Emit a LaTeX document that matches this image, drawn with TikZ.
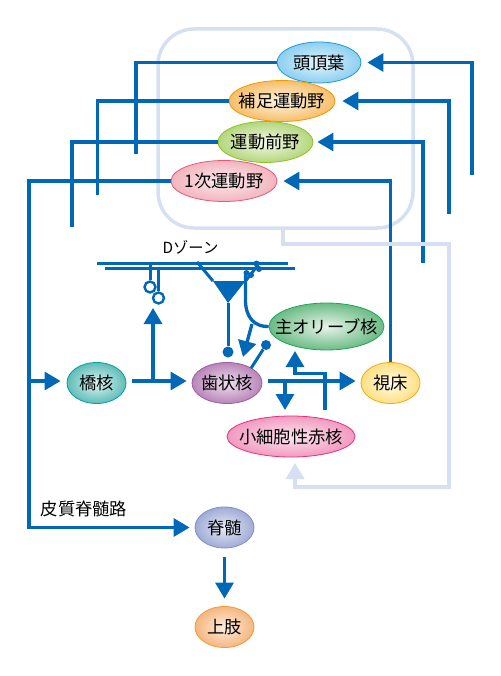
\documentclass[tikz,border=0pt]{standalone}
\usepackage{fontspec}
\setmainfont{Noto Sans CJK JP}
\usetikzlibrary{arrows.meta,positioning,calc,shapes.geometric}
\definecolor{pathblue}{HTML}{0068B7}
\definecolor{paleblue}{HTML}{D6E0F2}
\definecolor{skyB}{HTML}{1E9AD6}\definecolor{skyI}{HTML}{E4F5FC}\definecolor{skyO}{HTML}{8CCFF0}
\definecolor{amberB}{HTML}{F39800}\definecolor{amberI}{HTML}{FFF6E4}\definecolor{amberO}{HTML}{F7BE6A}
\definecolor{limeB}{HTML}{8FC31F}\definecolor{limeI}{HTML}{F5F9E8}\definecolor{limeO}{HTML}{B4D67E}
\definecolor{roseB}{HTML}{E8587A}\definecolor{roseI}{HTML}{FBECEF}\definecolor{roseO}{HTML}{F3B4BE}
\definecolor{leafB}{HTML}{22A35A}\definecolor{leafI}{HTML}{E8F4EB}\definecolor{leafO}{HTML}{6CBB85}
\definecolor{plumB}{HTML}{A05CA0}\definecolor{plumI}{HTML}{EEE0EE}\definecolor{plumO}{HTML}{B985B8}
\definecolor{sunB}{HTML}{F5A81C}\definecolor{sunI}{HTML}{FFFCEC}\definecolor{sunO}{HTML}{FEE07F}
\definecolor{pinkB}{HTML}{E5317D}\definecolor{pinkI}{HTML}{FBE6F0}\definecolor{pinkO}{HTML}{F29AC0}
\definecolor{tealB}{HTML}{00A0A0}\definecolor{tealI}{HTML}{E0F3F2}\definecolor{tealO}{HTML}{5FBDB8}
\definecolor{slateB}{HTML}{7F8FC9}\definecolor{slateI}{HTML}{E8EAF6}\definecolor{slateO}{HTML}{A0ABD6}
\definecolor{peachB}{HTML}{F39A3B}\definecolor{peachI}{HTML}{FDEEDF}\definecolor{peachO}{HTML}{F6B67F}
\newcommand{\lbl}[1]{\raisebox{-.38em}[0pt][0pt]{\makebox[0pt]{#1}}}
\tikzset{
  areanode/.style={ellipse, draw=#1B, line width=0.8pt, inner color=#1I, outer color=#1O, inner sep=0pt, minimum height=41pt, font=\fontsize{17.3}{20}\selectfont},
  cline/.style={-{Triangle[length=16pt,width=18pt]}, line width=3.3pt, draw=pathblue},
  pline/.style={line width=3.3pt, draw=pathblue},
  paleline/.style={line width=3.5pt, draw=paleblue},
  fibre/.style={line width=3pt, draw=pathblue},
  termdot/.style={circle, fill=pathblue, minimum size=11pt, inner sep=0pt},
  opendot/.style={circle, draw=pathblue, fill=white, line width=2.4pt, minimum size=11pt, inner sep=0pt},
  spine/.style={circle, fill=pathblue, minimum size=6pt, inner sep=0pt},
  txtlabel/.style={inner sep=0pt, font=\fontsize{17.3}{20}\selectfont},
}
\begin{document}
\begin{tikzpicture}[x=1pt,y=-1pt]
  \useasboundingbox (0,0) rectangle (500,676);

  \node[draw=paleblue, line width=3.5pt, rounded corners=36pt, minimum width=255pt, minimum height=199pt] (cortex) at (285.5,128.5) {};

  \node[areanode=sky, minimum width=84pt] (toucho) at (319,62.5) {\lbl{頭頂葉}};
  \node[areanode=amber, minimum width=106pt] (hosoku) at (282,101) {\lbl{補足運動野}};
  \node[areanode=lime, minimum width=95pt] (zenya) at (265.5,142) {\lbl{運動前野}};
  \node[areanode=rose, minimum width=106pt] (ichiji) at (224,181) {\lbl{1次運動野}};
  \node[areanode=leaf, minimum width=115pt, minimum height=47pt] (olive) at (326.5,326.5) {\lbl{主オリーブ核}};
  \node[areanode=plum, minimum width=70pt] (shijo) at (227,383) {\lbl{歯状核}};
  \node[areanode=sun, minimum width=59pt] (thal) at (390.5,383) {\lbl{視床}};
  \node[areanode=pink, minimum width=128pt] (red) at (291,436.5) {\lbl{小細胞性赤核}};
  \node[areanode=teal, minimum width=59pt] (kyo) at (96.5,383) {\lbl{橋核}};
  \node[areanode=slate, minimum width=59pt] (sekizui) at (224.5,527.5) {\lbl{脊髄}};
  \node[areanode=peach, minimum width=59pt] (joshi) at (224.5,627) {\lbl{上肢}};

  \node[txtlabel, font=\fontsize{15.3}{18}\selectfont] (dzone) at (190.5,247) {Dゾーン};
  \node[txtlabel] (tract) at (84,509) {皮質脊髄路};

  \coordinate (fb1) at (136,154);
  \coordinate (fb2) at (97.5,195);
  \coordinate (fb3) at (72,227);
  \coordinate (in1) at (472,175);
  \coordinate (in2) at (449,214);
  \coordinate (in3) at (423,263);
  \coordinate (trunk) at (29,180);
  \coordinate (midline) at (0,381);

  \draw[pline] (toucho.west) -- (toucho.west -| fb1) -- (fb1);
  \draw[pline] (hosoku.west) -- (hosoku.west -| fb2) -- (fb2);
  \draw[pline] (zenya.west) -- (zenya.west -| fb3) -- (fb3);
  \draw[cline] (in1) -- (in1 |- toucho.east) -- ($(toucho.east)+(6,0)$);
  \draw[cline] (in2) -- (in2 |- hosoku.east) -- ($(hosoku.east)+(7,0)$);
  \draw[cline] (in3) -- (in3 |- zenya.east) -- ($(zenya.east)+(4,0)$);
  \draw[cline] (thal.north) -- (thal.north |- ichiji.east) -- ($(ichiji.east)+(6,0)$);

  \draw[cline] (ichiji.west) -- (ichiji.west -| trunk) -- (trunk |- sekizui.west) -- ($(sekizui.west)+(-5,0)$);
  \draw[cline] (trunk |- midline) -- ($(kyo.west |- midline)+(-6,0)$);

  \coordinate (pale1) at (283,244);
  \coordinate (pale2) at (449,487);
  \coordinate (pale3) at (295,487);
  \coordinate (paletip) at (295,463);
  \draw[paleline, -{Triangle[length=16pt,width=18pt]}] (cortex.south -| pale1) -- (pale1) -- (pale1 -| pale2) -- (pale2) -- (pale3) -- (paletip);

  \coordinate (par1a) at (97,263.5);
  \coordinate (par1b) at (288,263.5);
  \coordinate (par2a) at (105,268);
  \coordinate (par2b) at (295,268);
  \draw[fibre] (par1a) -- (par1b);
  \draw[fibre] (par2a) -- (par2b);

  \node[opendot] (syn1) at (150,287) {};
  \node[opendot] (syn2) at (158.5,298) {};
  \draw[fibre] (syn1.north |- par1a) -- (syn1.north);
  \draw[fibre] (syn2.north |- par2a) -- (syn2.north);

  \coordinate (somaL) at (213,281);
  \coordinate (somaR) at (245.5,281);
  \coordinate (somaB) at (228,303);
  \coordinate (dendL) at (197,262);
  \coordinate (dendR) at (258,265);
  \fill[pathblue] (somaL) -- (somaR) -- (somaB) -- cycle;
  \draw[fibre] (dendL) -- (somaL);
  \draw[fibre] (somaR) -- (dendR);
  \node[spine] (sp1) at (246.5,273) {};
  \node[spine] (sp2) at (251,275) {};
  \node[spine] (sp3) at (256.5,263.5) {};
  \node[spine] (sp4) at (259,269) {};
  \node[termdot] (axon) at (228,352) {};
  \draw[fibre] (somaB) -- (axon);

  \coordinate (climb) at (245.5,275);
  \draw[pline] (climb) -- (245.5,300) .. controls (245.5,318) and (255,327) .. (olive.west);
  \draw[cline] (252,324) -- (243,357);
  \node[termdot, minimum size=10pt] (dentdot) at (266,345) {};
  \draw[fibre] (shijo.north east) ++(-1,0) -- (dentdot);

  \draw[cline] ($(kyo.east |- midline)+(6,0)$) -- ($(shijo.west |- midline)+(-5,0)$);
  \coordinate (mossy) at (153,381);
  \draw[cline] (mossy) -- (153,308);

  \draw[cline] ($(shijo.east |- midline)+(6,0)$) -- ($(thal.west |- midline)+(-5,0)$);
  \coordinate (rubro) at (285,381);
  \draw[cline] (rubro) -- (285,410);
  \coordinate (rise) at (325,373.5);
  \draw[cline] (rise |- red.north) ++(0,-6) -- (rise) -- (295,373.5) -- (295,351);

  \draw[cline] ($(sekizui.south)+(0,9)$) -- ($(joshi.north)+(0,-7.5)$);
\end{tikzpicture}
\end{document}
